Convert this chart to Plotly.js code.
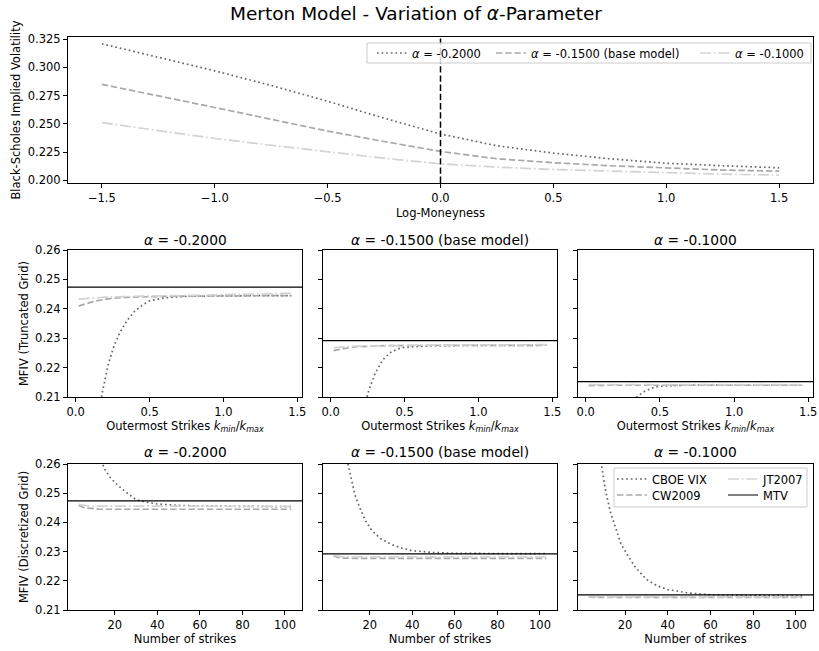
<!DOCTYPE html>
<html><head><meta charset="utf-8">
<script src="https://cdn.plot.ly/plotly-3.0.1.min.js"></script>
<style>html,body{margin:0;padding:0;background:#fff}</style>
</head><body><div id="chart" style="width:819px;height:651px"></div>
<script>
// ---------- data ----------
const alphaLabels = ['<i>α</i> = -0.2000', '<i>α</i> = -0.1500 (base model)', '<i>α</i> = -0.1000'];

// Top panel: Black-Scholes implied volatility vs log-moneyness
const logM = [-1.5,-1.25,-1.0,-0.75,-0.5,-0.25,0,0.25,0.5,0.75,1.0,1.25,1.5];
const iv_a020 = [0.321,0.309,0.297,0.284,0.270,0.255,0.241,0.2305,0.224,0.219,0.215,0.2128,0.211];
const iv_a015 = [0.285,0.275,0.2645,0.254,0.2435,0.2343,0.2255,0.219,0.2155,0.2128,0.211,0.209,0.208];
const iv_a010 = [0.251,0.244,0.237,0.231,0.225,0.2195,0.2145,0.2116,0.2095,0.2081,0.2065,0.2053,0.2045];

// Middle row: MFIV (truncated grid) vs outermost strikes
const kOuter = [0.02,0.06,0.10,0.14,0.18,0.22,0.26,0.30,0.35,0.40,0.45,0.50,0.60,0.70,0.80,1.00,1.20,1.46];
const cboeTrunc_a020 = [null,null,null,0.196,0.2115,0.2210,0.2275,0.2320,0.2362,0.2392,0.2412,0.2427,0.2437,0.2441,0.2443,0.2444,0.2444,0.2445];
const cwTrunc_a020   = [0.2409,0.2416,0.2422,0.2427,0.2431,0.2434,0.2436,0.2438,0.2439,0.2440,0.2441,0.2441,0.2442,0.2443,0.2443,0.2444,0.2444,0.2445];
const jtTrunc_a020   = [0.2433,0.2435,0.2437,0.2438,0.2439,0.2440,0.2441,0.2441,0.2442,0.2442,0.2443,0.2443,0.2444,0.2445,0.2446,0.2448,0.2450,0.2453];
const cboeTrunc_a015 = [null,null,null,null,null,0.2055,0.2125,0.2180,0.2225,0.2250,0.2263,0.2269,0.2273,0.2275,0.2275,0.2276,0.2276,0.2276];
const cwTrunc_a015   = [0.2258,0.2262,0.2266,0.2269,0.2271,0.2272,0.2273,0.2274,0.2274,0.2275,0.2275,0.2275,0.2275,0.2275,0.2276,0.2276,0.2276,0.2276];
const jtTrunc_a015   = [0.2268,0.2270,0.2271,0.2272,0.2273,0.2273,0.2274,0.2274,0.2275,0.2275,0.2275,0.2276,0.2276,0.2276,0.2277,0.2277,0.2278,0.2278];
const cboeTrunc_a010 = [null,null,null,null,null,null,null,0.2075,0.2103,0.2120,0.2131,0.2137,0.2140,0.2141,0.2141,0.2141,0.2141,0.2141];
const cwTrunc_a010   = [0.2139,0.2140,0.2140,0.2140,0.2140,0.2140,0.2140,0.2140,0.2140,0.2140,0.2140,0.2140,0.2140,0.2140,0.2140,0.2140,0.2140,0.2140];
const jtTrunc_a010   = [0.2142,0.2142,0.2142,0.2142,0.2142,0.2142,0.2142,0.2142,0.2142,0.2142,0.2142,0.2142,0.2142,0.2142,0.2142,0.2142,0.2142,0.2142];

// Bottom row: MFIV (discretized grid) vs number of strikes
const nStrikes = [3,5,7,9,11,13,15,18,21,25,30,35,40,50,60,70,80,90,103];
const cboeDisc_a020 = [null,0.300,0.287,0.277,0.269,0.2625,0.2585,0.2552,0.2530,0.2505,0.2478,0.2469,0.2463,0.2458,0.2456,0.2455,0.2455,0.2454,0.2454];
const cwDisc_a020   = [0.2458,0.2452,0.2449,0.2447,0.2446,0.2445,0.2445,0.2445,0.2445,0.2445,0.2445,0.2445,0.2445,0.2445,0.2445,0.2445,0.2445,0.2445,0.2445];
const jtDisc_a020   = [0.2462,0.2459,0.2457,0.2456,0.2456,0.2455,0.2455,0.2455,0.2455,0.2455,0.2455,0.2455,0.2455,0.2455,0.2455,0.2455,0.2455,0.2455,0.2455];
const cboeDisc_a015 = [null,0.285,0.272,0.2625,0.2555,0.2495,0.2455,0.2405,0.2372,0.2345,0.2325,0.2312,0.2303,0.2297,0.2294,0.2293,0.2293,0.2293,0.2293];
const cwDisc_a015   = [0.2285,0.2280,0.2278,0.2277,0.2277,0.2277,0.2277,0.2277,0.2277,0.2277,0.2277,0.2277,0.2277,0.2277,0.2277,0.2277,0.2277,0.2277,0.2277];
const jtDisc_a015   = [0.2287,0.2284,0.2282,0.2282,0.2282,0.2282,0.2282,0.2282,0.2282,0.2282,0.2282,0.2282,0.2282,0.2282,0.2282,0.2282,0.2282,0.2282,0.2282];
const cboeDisc_a010 = [null,0.300,0.278,0.2595,0.2505,0.2440,0.2395,0.2328,0.2290,0.2245,0.2205,0.2183,0.2170,0.2158,0.2152,0.2150,0.2150,0.2149,0.2149];
const cwDisc_a010   = [0.2145,0.2143,0.2143,0.2143,0.2143,0.2143,0.2143,0.2143,0.2143,0.2143,0.2143,0.2143,0.2143,0.2143,0.2143,0.2143,0.2143,0.2143,0.2143];
const jtDisc_a010   = [0.2146,0.2145,0.2145,0.2145,0.2145,0.2145,0.2145,0.2145,0.2145,0.2145,0.2145,0.2145,0.2145,0.2145,0.2145,0.2145,0.2145,0.2145,0.2145];

// Model-free true variance (MTV) per alpha
const mtv = [0.2474, 0.2292, 0.2152];

// Axis ranges and ticks
const topXRange = [-1.65, 1.65];
const topYRange = [0.1975, 0.327];
const kRange = [-0.052, 1.532];
const nRange = [-2, 108];
const mfivRange = [0.21, 0.26];
const topXTicks = [-1.5,-1.0,-0.5,0,0.5,1.0,1.5];
const topYTicks = [0.200,0.225,0.250,0.275,0.300,0.325];
const kTicks = [0,0.5,1.0,1.5];
const nTicks = [20,40,60,80,100];
const mfivTicks = [0.21,0.22,0.23,0.24,0.25,0.26];

// ---------- styling ----------
const W = 819, H = 651;
const FONT = 'DejaVu Sans';
const LW = 1.7;
const C_DOT = '#696969', C_DASH = '#a9a9a9', C_DD = '#d3d3d3';
const DOT = '1.7px,2.9px', DASH = '6.4px,2.8px', DASHDOT = '11px,2.8px,1.7px,2.8px';
const px = v => v / W, py = v => 1 - v / H;

const colDom = [[px(68), px(302)], [px(323), px(557)], [px(578), px(813)]];
const midDom = [py(397), py(250)];
const botDom = [py(610), py(464)];

const traces = [];
// top
traces.push({x: logM, y: iv_a020, xaxis:'x', yaxis:'y', mode:'lines', name: alphaLabels[0], legend:'legend',
  line:{color:C_DOT, width:LW, dash:DOT}});
traces.push({x: logM, y: iv_a015, xaxis:'x', yaxis:'y', mode:'lines', name: alphaLabels[1], legend:'legend2',
  line:{color:C_DASH, width:LW, dash:DASH}});
traces.push({x: logM, y: iv_a010, xaxis:'x', yaxis:'y', mode:'lines', name: alphaLabels[2], legend:'legend3',
  line:{color:C_DD, width:LW, dash:DASHDOT}});
traces.push({x: [0, 0], y: topYRange, xaxis:'x', yaxis:'y', mode:'lines', showlegend:false,
  line:{color:'#000', width:1.5, dash:DASH}});

const truncSets = [[cboeTrunc_a020, cwTrunc_a020, jtTrunc_a020], [cboeTrunc_a015, cwTrunc_a015, jtTrunc_a015], [cboeTrunc_a010, cwTrunc_a010, jtTrunc_a010]];
const discSets = [[cboeDisc_a020, cwDisc_a020, jtDisc_a020], [cboeDisc_a015, cwDisc_a015, jtDisc_a015], [cboeDisc_a010, cwDisc_a010, jtDisc_a010]];

function addPanel(xs, sets, mtvVal, xr, xa, ya, withLegend) {
  const [cboe, cw, jt] = sets;
  traces.push({x: xs, y: cboe, xaxis:xa, yaxis:ya, mode:'lines', name:'CBOE VIX', showlegend:withLegend, legend:'legend4',
    line:{color:C_DOT, width:LW, dash:DOT}});
  traces.push({x: xs, y: cw, xaxis:xa, yaxis:ya, mode:'lines', name:'CW2009', showlegend:withLegend, legend:'legend5',
    line:{color:C_DASH, width:LW, dash:DASH}});
  traces.push({x: xs, y: jt, xaxis:xa, yaxis:ya, mode:'lines', name:'JT2007', showlegend:withLegend, legend:'legend6',
    line:{color:C_DD, width:LW, dash:DASHDOT}});
  traces.push({x: xr, y: [mtvVal, mtvVal], xaxis:xa, yaxis:ya, mode:'lines', name:'MTV', showlegend:withLegend, legend:'legend7',
    line:{color:'#000', width:1.2}});
}
for (let i = 0; i < 3; i++) {
  addPanel(kOuter, truncSets[i], mtv[i], kRange, 'x' + (i + 2), 'y' + (i + 2), false);
}
for (let i = 0; i < 3; i++) {
  addPanel(nStrikes, discSets[i], mtv[i], nRange, 'x' + (i + 5), 'y' + (i + 5), i === 2);
}

const tickFont = {family: FONT, size: 11.5, color: '#000'};
function axis(domain, range, tickvals, fmt, anchor, title, showLabels, standoff) {
  const a = {domain, range, tickvals, tickformat: fmt, anchor, showgrid:false, zeroline:false,
    showline:true, mirror:true, linecolor:'#000', linewidth:1, ticks:'outside', ticklen:4, tickwidth:1,
    tickcolor:'#000', tickfont: tickFont, showticklabels: showLabels, fixedrange:true};
  if (title) a.title = {text: title, font: {family: FONT, size: 11.5, color:'#000'}, standoff: standoff};
  return a;
}

const kTitle = 'Outermost Strikes <i>k</i><sub><i>min</i></sub>/<i>k</i><sub><i>max</i></sub>';
const layout = {
  width: W, height: H, margin: {l:0, r:0, t:0, b:0},
  paper_bgcolor:'#fff', plot_bgcolor:'#fff',
  font: {family: FONT, size: 11.5, color:'#000'},
  title: {text: 'Merton Model - Variation of <i>α</i>-Parameter', x: px(416), xanchor:'center',
    y: py(14), yanchor:'middle', font: {family: FONT, size: 18.5, color:'#000'}},
  hovermode: false,
  xaxis: axis([px(68), px(813)], topXRange, topXTicks, '.1f', 'y', 'Log-Moneyness', true, 5),
  yaxis: axis([py(183), py(37)], topYRange, topYTicks, '.3f', 'x', 'Black-Scholes Implied Volatility', true, 4),
  annotations: [],
  shapes: [
    {type:'rect', xref:'paper', yref:'paper', x0:px(367), x1:px(811), y0:py(63), y1:py(43),
      fillcolor:'rgba(255,255,255,0.8)', line:{color:'#cccccc', width:1}, layer:'above'},
    {type:'rect', xref:'paper', yref:'paper', x0:px(614), x1:px(807), y0:py(507), y1:py(468),
      fillcolor:'rgba(255,255,255,0.8)', line:{color:'#cccccc', width:1}, layer:'above'}
  ]
};
for (let i = 0; i < 3; i++) {
  layout['xaxis' + (i + 2)] = axis(colDom[i], kRange, kTicks, '.1f', 'y' + (i + 2), kTitle, true, 2);
  layout['yaxis' + (i + 2)] = axis(midDom, mfivRange, mfivTicks, '.2f', 'x' + (i + 2), i === 0 ? 'MFIV (Truncated Grid)' : null, i === 0, 4);
  layout['xaxis' + (i + 5)] = axis(colDom[i], nRange, nTicks, 'd', 'y' + (i + 5), 'Number of strikes', true, 3);
  layout['yaxis' + (i + 5)] = axis(botDom, mfivRange, mfivTicks, '.2f', 'x' + (i + 5), i === 0 ? 'MFIV (Discretized Grid)' : null, i === 0, 4);
  const cx = (colDom[i][0] + colDom[i][1]) / 2;
  layout.annotations.push({text: alphaLabels[i], xref:'paper', yref:'paper', x: cx, y: py(240), xanchor:'center', yanchor:'middle',
    showarrow:false, font:{family: FONT, size: 13.8, color:'#000'}});
  layout.annotations.push({text: alphaLabels[i], xref:'paper', yref:'paper', x: cx, y: py(452), xanchor:'center', yanchor:'middle',
    showarrow:false, font:{family: FONT, size: 13.8, color:'#000'}});
}
function leg(xText, yc) {
  return {x: px(xText - 40), y: py(yc), xanchor:'left', yanchor:'middle', bgcolor:'rgba(0,0,0,0)', borderwidth:0,
    itemwidth:30, font:{family: FONT, size: 11.5, color:'#000'}};
}
layout.legend = leg(412, 53);
layout.legend2 = leg(531, 53);
layout.legend3 = leg(735, 53);
layout.legend4 = leg(652, 479);
layout.legend5 = leg(652, 495);
layout.legend6 = leg(763, 479);
layout.legend7 = leg(763, 495);

Plotly.newPlot('chart', traces, layout, {staticPlot: true, displayModeBar: false});
</script></body></html>
